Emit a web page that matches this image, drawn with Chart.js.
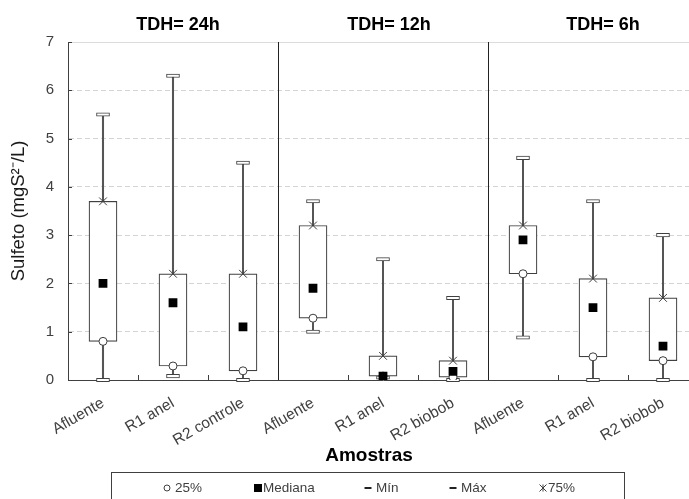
<!DOCTYPE html>
<html lang="pt">
<head>
<meta charset="UTF-8">
<title>Sulfeto por TDH</title>
<script src="https://cdn.jsdelivr.net/npm/chart.js"></script>
<style>
    html, body { margin: 0; padding: 0; background: #ffffff; overflow: hidden; }
    #wrap { width: 712px; height: 499px; }
</style>
</head>
<body>
<div id="wrap"><canvas id="chart" width="712" height="499"></canvas></div>
<script>
const categories = ['Afluente', 'R1 anel', 'R2 controle', 'Afluente', 'R1 anel', 'R2 biobob', 'Afluente', 'R1 anel', 'R2 biobob'];
const groupTitles = ['TDH= 24h', 'TDH= 12h', 'TDH= 6h'];
const minValues    = [0.00, 0.08, 0.00, 1.00, 0.05, 0.00, 0.88, 0.00, 0.00];
const q1Values     = [0.80, 0.29, 0.19, 1.28, 0.08, 0.06, 2.20, 0.48, 0.40];
const medianValues = [2.00, 1.60, 1.10, 1.90, 0.08, 0.18, 2.90, 1.50, 0.70];
const q3Values     = [3.70, 2.20, 2.20, 3.20, 0.50, 0.40, 3.20, 2.10, 1.70];
const maxValues    = [5.50, 6.30, 4.50, 3.70, 2.50, 1.70, 4.60, 3.70, 3.00];
const yTicks = [0, 1, 2, 3, 4, 5, 6, 7];
const legendLabels = ['25%', 'Mediana', 'Mín', 'Máx', '75%'];

const FONT = "'Liberation Sans', Arial, sans-serif";
const INK = '#404040';
const capHalf = 0.035; // half height of the min/max caps, in mg/L

// little "ж" style asterisk used for the 75% marker in the legend
function drawAsterisk(ctx, x, y, r) {
    ctx.beginPath();
    ctx.moveTo(x - r, y - r); ctx.lineTo(x + r, y + r);
    ctx.moveTo(x + r, y - r); ctx.lineTo(x - r, y + r);
    ctx.moveTo(x, y - r); ctx.lineTo(x, y + r);
    ctx.stroke();
}

const decor = {
    id: 'decor',
    afterDraw(chart) {
        const { ctx, chartArea: a, scales: { x, y } } = chart;
        ctx.save();

        // light frame line on top of the plot
        ctx.strokeStyle = '#dcdcdc';
        ctx.lineWidth = 1;
        ctx.beginPath();
        ctx.moveTo(a.left, a.top + 0.5);
        ctx.lineTo(a.right, a.top + 0.5);
        ctx.stroke();

        // inner tick marks on the y axis
        ctx.strokeStyle = INK;
        yTicks.forEach(v => {
            const py = Math.round(y.getPixelForValue(v)) + 0.5;
            ctx.beginPath();
            ctx.moveTo(a.left, py);
            ctx.lineTo(a.left + 4, py);
            ctx.stroke();
        });

        // category boundaries: full dividers between TDH groups, short ticks elsewhere
        for (let i = 1; i < categories.length; i++) {
            const px = Math.round((x.getPixelForValue(i - 1) + x.getPixelForValue(i)) / 2) + 0.5;
            ctx.strokeStyle = i % 3 === 0 ? '#222' : INK;
            ctx.beginPath();
            ctx.moveTo(px, a.bottom);
            ctx.lineTo(px, i % 3 === 0 ? a.top : a.bottom - 5);
            ctx.stroke();
        }

        // group titles
        const titleShift = [5, 6, 10];
        ctx.fillStyle = '#000';
        ctx.font = 'bold 18px ' + FONT;
        ctx.textAlign = 'center';
        ctx.textBaseline = 'middle';
        groupTitles.forEach((t, g) => {
            ctx.fillText(t, x.getPixelForValue(g * 3 + 1) + titleShift[g], 25);
        });

        // x axis title
        ctx.font = 'bold 19px ' + FONT;
        ctx.fillText('Amostras', 369, 456);

        // legend box
        ctx.strokeStyle = INK;
        ctx.lineWidth = 1;
        ctx.strokeRect(111.5, 472.5, 513, 40);

        const markX = [167, 258, 368, 453, 543];
        const textX = [175, 263, 376, 461, 548];
        const ly = 488;
        ctx.font = '13.5px ' + FONT;
        ctx.textAlign = 'left';
        legendLabels.forEach((lab, i) => {
            const mx = markX[i];
            ctx.strokeStyle = INK;
            ctx.fillStyle = '#000';
            if (i === 0) {
                ctx.beginPath();
                ctx.arc(mx, ly, 3, 0, Math.PI * 2);
                ctx.stroke();
            } else if (i === 1) {
                ctx.fillRect(mx - 4, ly - 4, 8, 8);
            } else if (i === 2 || i === 3) {
                ctx.fillStyle = '#222';
                ctx.fillRect(mx - 3.5, ly - 1, 7, 2);
            } else {
                drawAsterisk(ctx, mx, ly, 3.5);
            }
            ctx.fillStyle = INK;
            ctx.fillText(lab, textX[i], ly);
        });

        ctx.restore();
    }
};

new Chart(document.getElementById('chart'), {
    type: 'bar',
    data: {
        labels: categories,
        datasets: [
            {
                label: 'whisker',
                data: categories.map((_, i) => [minValues[i], maxValues[i]]),
                backgroundColor: '#555555',
                borderWidth: 0,
                barThickness: 1.4,
                grouped: false,
                order: 5
            },
            {
                label: 'Máx',
                data: maxValues.map(v => [v - capHalf, v + capHalf]),
                backgroundColor: '#ffffff',
                borderColor: INK,
                borderWidth: 1,
                borderSkipped: false,
                barThickness: 13,
                grouped: false,
                clip: false,
                order: 4
            },
            {
                label: 'Mín',
                data: minValues.map(v => [v - capHalf, v + capHalf]),
                backgroundColor: '#ffffff',
                borderColor: INK,
                borderWidth: 1,
                borderSkipped: false,
                barThickness: 13,
                grouped: false,
                clip: false,
                order: 4
            },
            {
                label: 'box',
                data: categories.map((_, i) => [q1Values[i], q3Values[i]]),
                backgroundColor: '#ffffff',
                borderColor: INK,
                borderWidth: 1.2,
                borderSkipped: false,
                barThickness: 28,
                grouped: false,
                order: 3
            },
            {
                type: 'line',
                label: '25%',
                data: q1Values,
                showLine: false,
                pointStyle: 'circle',
                pointRadius: 4,
                pointBackgroundColor: '#ffffff',
                pointBorderColor: INK,
                pointBorderWidth: 1,
                order: 2
            },
            {
                type: 'line',
                label: '75%',
                data: q3Values,
                showLine: false,
                pointStyle: 'crossRot',
                pointRadius: 5.5,
                pointBorderColor: INK,
                pointBorderWidth: 1,
                order: 1
            },
            {
                type: 'line',
                label: 'Mediana',
                data: medianValues,
                showLine: false,
                pointStyle: 'rect',
                pointRadius: 6.2,
                pointBackgroundColor: '#000000',
                pointBorderColor: '#000000',
                pointBorderWidth: 0,
                order: 0
            }
        ]
    },
    options: {
        responsive: false,
        animation: false,
        events: [],
        layout: { padding: { top: 42, right: 14, bottom: 0, left: 0 } },
        plugins: {
            legend: { display: false },
            tooltip: { enabled: false }
        },
        scales: {
            x: {
                offset: true,
                grid: { display: false, drawTicks: false },
                border: { display: true, color: INK, width: 1 },
                ticks: {
                    autoSkip: false,
                    minRotation: 30,
                    maxRotation: 30,
                    padding: 14,
                    color: INK,
                    font: { family: FONT, size: 15.5 }
                },
                afterFit(scale) { scale.height = 119; }
            },
            y: {
                min: 0,
                max: 7,
                ticks: {
                    stepSize: 1,
                    padding: 14,
                    color: INK,
                    font: { family: FONT, size: 15 }
                },
                grid: {
                    color: c => (c.tick.value === 0 || c.tick.value === 7) ? 'rgba(0,0,0,0)' : '#d4d4d4',
                    drawTicks: false,
                    lineWidth: 1
                },
                border: { color: INK, width: 1, dash: [5, 3] },
                title: {
                    display: true,
                    text: 'Sulfeto (mgS²⁻/L)',
                    color: '#1a1a1a',
                    font: { family: FONT, size: 18.5 },
                    padding: { top: 8, bottom: 0 }
                },
                afterFit(scale) { scale.width = 68; }
            }
        }
    },
    plugins: [decor]
});
</script>
</body>
</html>
